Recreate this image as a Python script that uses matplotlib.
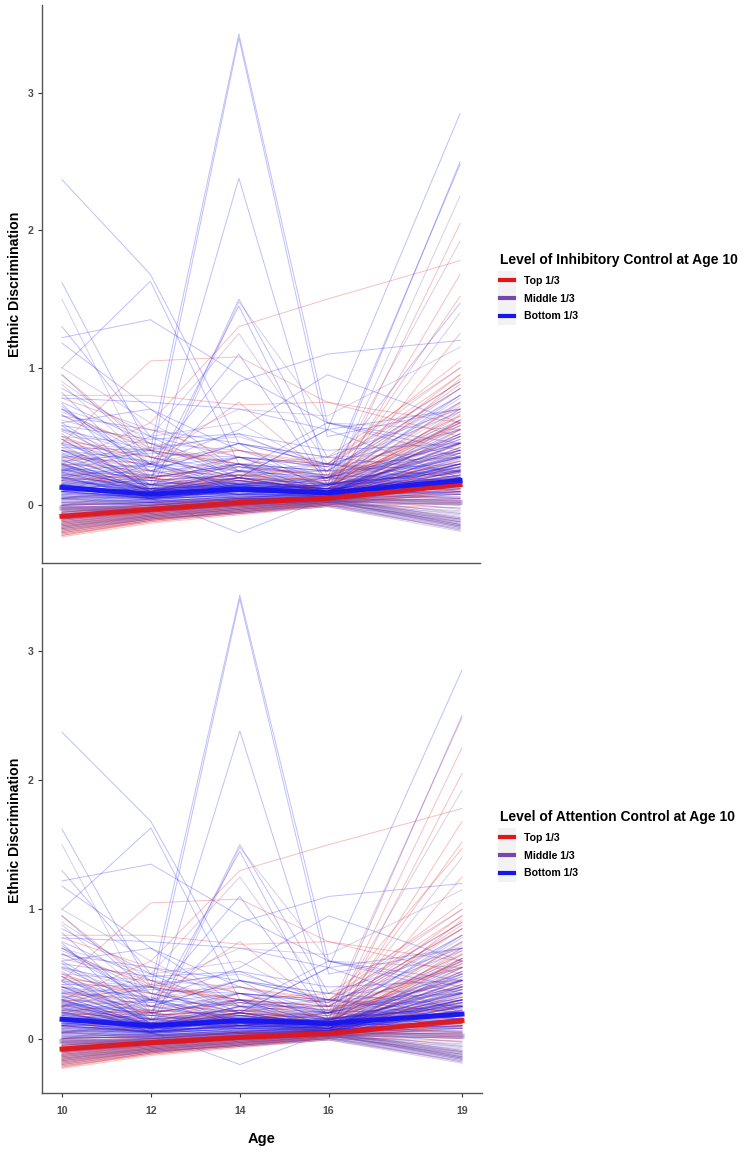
import matplotlib
matplotlib.use("Agg")
import matplotlib.pyplot as plt
from matplotlib.lines import Line2D
from matplotlib.patches import Rectangle
from matplotlib.transforms import IdentityTransform

plt.rcParams["font.family"] = ["Liberation Sans", "DejaVu Sans"]

ages = [10, 12, 14, 16, 19]
group_labels = ["Top 1/3", "Middle 1/3", "Bottom 1/3"]
group_colors = {"T": "#E0161B", "M": "#7448B0", "B": "#1515F0"}

# ethnic discrimination per participant at ages 10, 12, 14, 16, 19
high_scores = [
    [0.25, 0.40, 3.43, 0.60, 0.35], [0.10, 0.30, 3.40, 0.50, 0.70],
    [0.05, 0.15, 2.38, 0.20, 0.45], [0.30, 0.10, 1.50, 0.35, 0.25],
    [0.15, 0.05, 1.48, 0.60, 0.55], [0.40, 0.20, 1.45, 0.15, 0.80],
    [2.37, 1.68, 0.45, 0.10, 0.30], [1.00, 1.63, 0.30, 0.05, 0.20],
    [1.62, 0.40, 0.10, 0.20, 0.15], [1.22, 1.35, 0.95, 0.60, 0.40],
    [1.30, 0.50, 0.20, 0.10, 0.50], [1.50, 0.20, 0.05, 0.05, 0.30],
    [0.45, 1.05, 1.08, 0.75, 0.50], [0.80, 0.80, 0.73, 0.75, 0.60],
    [0.30, 0.60, 1.30, 1.50, 1.78], [0.10, 0.20, 0.90, 1.10, 1.20],
    [0.20, 0.30, 0.55, 0.95, 0.60], [0.05, 0.10, 0.20, 0.55, 2.85],
    [0.10, 0.05, 0.15, 0.20, 2.48], [0.00, 0.10, 0.10, 0.15, 2.50],
    [0.05, 0.00, 0.05, 0.10, 2.25], [-0.05, 0.00, 0.05, 0.05, 2.05],
    [0.00, 0.05, 0.10, 0.15, 1.92], [-0.10, -0.05, 0.00, 0.05, 1.68],
    [-0.05, 0.00, 0.05, 0.10, 1.52], [0.20, 0.15, 0.30, 0.25, 1.47],
    [0.10, 0.05, 0.20, 0.10, 1.40], [-0.10, -0.05, 0.00, 0.05, 1.25],
    [0.70, 0.30, 1.10, 0.15, 0.20], [0.25, 0.50, 1.25, 0.30, 0.20],
    [0.78, 0.75, 0.70, 0.55, 0.20], [1.18, 0.70, 0.40, 0.20, 0.10],
    [1.00, 0.60, 0.25, 0.10, 0.05], [0.95, 0.40, 0.30, 0.15, 0.60],
    [0.65, 0.42, 0.50, 0.30, 1.00], [0.55, 0.40, 0.52, 0.25, 0.85],
    [0.60, 0.70, 0.25, 0.60, 0.45], [0.35, 0.40, 0.70, 0.65, 1.15],
    [0.50, 0.30, 0.75, 0.20, 0.95], [0.40, 0.25, 0.45, 0.35, 0.70],
    [0.30, 0.05, -0.20, 0.05, 0.10], [0.75, 0.45, 0.20, 0.55, 0.70],
    [0.45, 0.35, 0.20, 0.30, 1.05], [0.25, 0.20, 0.35, 0.30, 0.90],
    [0.70, 0.35, 0.25, 0.25, 0.80], [0.50, 0.45, 0.30, 0.20, 0.60],
]
mid_scores = [
    [0.45, 0.30, 0.25, 0.20, 0.50], [0.40, 0.15, 0.20, 0.15, 0.35],
    [0.38, 0.25, 0.30, 0.10, 0.55], [0.35, 0.20, 0.15, 0.10, 0.65],
    [0.33, 0.10, 0.25, 0.20, 0.40], [0.30, 0.28, 0.20, 0.18, 0.45],
    [0.28, 0.15, 0.10, 0.12, 0.75], [0.26, 0.20, 0.28, 0.15, 0.30],
    [0.25, 0.10, 0.12, 0.08, 0.55], [0.24, 0.18, 0.22, 0.20, 0.25],
    [0.22, 0.12, 0.20, 0.10, 0.62], [0.22, 0.25, 0.15, 0.18, 0.38],
    [0.20, 0.08, 0.15, 0.12, 0.48], [0.20, 0.15, 0.18, 0.10, 0.33],
    [0.18, 0.10, 0.25, 0.15, 0.70], [0.18, 0.12, 0.10, 0.08, 0.22],
    [0.16, 0.20, 0.12, 0.14, 0.58], [0.15, 0.08, 0.20, 0.10, 0.42],
    [0.15, 0.12, 0.15, 0.12, 0.28], [0.14, 0.05, 0.10, 0.08, 0.52],
    [0.12, 0.10, 0.18, 0.12, 0.35], [0.12, 0.08, 0.08, 0.06, 0.60],
    [0.10, 0.05, 0.12, 0.10, 0.44], [0.10, 0.12, 0.10, 0.08, 0.25],
    [0.60, 0.20, 0.30, 0.25, 0.30], [0.55, 0.30, 0.15, 0.20, 0.40],
    [0.52, 0.10, 0.20, 0.15, 0.25], [0.48, 0.35, 0.40, 0.30, 0.20],
    [0.42, 0.40, 0.28, 0.22, 0.18], [0.36, 0.30, 0.45, 0.35, 0.38],
    [0.32, 0.38, 0.35, 0.28, 0.68], [0.28, 0.42, 0.30, 0.25, 0.85],
    [0.65, 0.55, 0.45, 0.30, 0.55], [0.58, 0.48, 0.52, 0.40, 0.45],
    [0.85, 0.50, 0.35, 0.30, 0.35], [0.88, 0.30, 0.10, 0.15, 0.25],
    [0.72, 0.25, 0.15, 0.10, 0.12], [0.68, 0.40, 0.30, 0.35, 1.00],
    [0.95, 0.35, 0.20, 0.10, 0.30], [0.90, 0.45, 0.40, 0.25, 0.15],
    [0.82, 0.20, 0.30, 0.20, 0.45], [0.78, 0.55, 0.35, 0.15, 0.60],
    [0.74, 0.10, 0.25, 0.30, 0.25], [0.70, 0.50, 0.60, 0.25, 0.35],
    [0.66, 0.30, 0.10, 0.20, 0.75], [0.62, 0.45, 0.25, 0.10, 0.20],
    [0.58, 0.15, 0.35, 0.28, 0.90], [0.56, 0.35, 0.20, 0.12, 0.40],
    [0.54, 0.25, 0.45, 0.30, 0.15], [0.50, 0.20, 0.10, 0.18, 0.65],
    [0.48, 0.12, 0.30, 0.10, 0.35], [0.46, 0.40, 0.15, 0.22, 0.80],
    [0.44, 0.28, 0.35, 0.15, 0.28], [0.42, 0.18, 0.22, 0.25, 0.55],
    [0.40, 0.32, 0.12, 0.08, 0.45], [0.38, 0.10, 0.28, 0.20, 0.72],
    [0.37, 0.22, 0.18, 0.12, 0.20], [0.35, 0.30, 0.40, 0.28, 0.95],
    [0.34, 0.15, 0.08, 0.14, 0.38], [0.32, 0.20, 0.30, 0.22, 0.58],
    [0.31, 0.08, 0.15, 0.05, 0.25], [0.30, 0.25, 0.22, 0.18, 0.85],
    [0.29, 0.18, 0.12, 0.15, 0.48], [0.28, 0.05, 0.20, 0.10, 0.32],
    [0.27, 0.22, 0.35, 0.20, 0.62], [0.26, 0.12, 0.08, 0.12, 0.18],
    [0.25, 0.30, 0.18, 0.08, 0.52], [0.24, 0.08, 0.25, 0.16, 0.78],
    [0.23, 0.15, 0.12, 0.10, 0.36], [0.22, 0.20, 0.28, 0.22, 0.46],
    [0.21, 0.05, 0.10, 0.06, 0.28], [0.20, 0.18, 0.22, 0.14, 0.66],
    [0.19, 0.12, 0.08, 0.10, 0.40], [0.18, 0.22, 0.18, 0.20, 0.88],
    [0.17, 0.06, 0.14, 0.08, 0.30], [0.16, 0.14, 0.24, 0.12, 0.50],
    [0.15, 0.18, 0.10, 0.16, 0.24], [0.14, 0.10, 0.20, 0.10, 0.68],
    [0.13, 0.04, 0.12, 0.06, 0.38], [0.12, 0.16, 0.16, 0.14, 0.56],
    [0.11, 0.08, 0.08, 0.08, 0.30], [0.10, 0.12, 0.22, 0.12, 0.74],
    [0.09, 0.06, 0.10, 0.10, 0.42], [0.08, 0.10, 0.14, 0.08, 0.62],
    [0.07, 0.04, 0.08, 0.06, 0.34], [0.06, 0.08, 0.18, 0.10, 0.92],
    [0.05, 0.06, 0.06, 0.08, 0.46], [0.04, 0.10, 0.12, 0.06, 0.58],
]
low_rising_scores = [
    [-0.22, -0.12, -0.06, 0.00, 0.10], [-0.21, -0.11, -0.05, 0.01, 0.20],
    [-0.20, -0.10, -0.04, 0.02, 0.05], [-0.19, -0.10, -0.05, 0.00, 0.30],
    [-0.18, -0.09, -0.03, 0.02, 0.15], [-0.17, -0.08, -0.02, 0.03, 0.25],
    [-0.16, -0.08, -0.03, 0.01, -0.02], [-0.15, -0.07, -0.01, 0.03, 0.40],
    [-0.14, -0.06, 0.00, 0.04, 0.12], [-0.13, -0.06, -0.01, 0.02, 0.08],
    [-0.12, -0.05, 0.00, 0.04, 0.35], [-0.11, -0.04, 0.01, 0.05, 0.18],
    [-0.10, -0.04, 0.02, 0.05, 0.50], [-0.09, -0.03, 0.01, 0.04, 0.22],
    [-0.08, -0.02, 0.03, 0.06, 0.06], [-0.06, -0.01, 0.03, 0.05, 0.28],
    [-0.04, 0.00, 0.04, 0.06, 0.14], [-0.02, 0.01, 0.05, 0.07, 0.45],
    [0.00, 0.02, 0.05, 0.06, 0.03], [0.02, 0.03, 0.06, 0.08, 0.32],
    [-0.23, -0.13, -0.07, -0.01, 0.02], [-0.22, -0.11, -0.05, 0.01, 0.24],
    [-0.21, -0.12, -0.06, 0.00, 0.12], [-0.20, -0.11, -0.04, 0.01, 0.38],
    [-0.19, -0.09, -0.04, 0.02, 0.08], [-0.18, -0.10, -0.05, 0.00, 0.18],
    [-0.17, -0.09, -0.03, 0.02, 0.55], [-0.16, -0.07, -0.02, 0.03, 0.10],
    [-0.15, -0.08, -0.03, 0.02, 0.26], [-0.14, -0.07, -0.02, 0.03, 0.00],
    [-0.13, -0.05, 0.00, 0.04, 0.16], [-0.12, -0.06, -0.01, 0.03, 0.62],
    [-0.11, -0.05, 0.00, 0.04, 0.09], [-0.10, -0.03, 0.01, 0.05, 0.30],
    [-0.09, -0.04, 0.00, 0.04, 0.04], [-0.08, -0.03, 0.02, 0.05, 0.42],
    [-0.07, -0.02, 0.02, 0.06, 0.20], [-0.05, -0.01, 0.03, 0.06, 0.11],
    [-0.03, 0.00, 0.04, 0.06, 0.70], [0.00, 0.02, 0.04, 0.07, 0.26],
]
low_falling_scores = [
    [-0.18, -0.10, -0.05, 0.00, -0.18], [-0.17, -0.09, -0.06, -0.01, -0.17],
    [-0.16, -0.09, -0.04, 0.01, -0.16], [-0.15, -0.08, -0.03, 0.02, -0.15],
    [-0.14, -0.08, -0.04, 0.00, -0.16], [-0.13, -0.07, -0.02, 0.02, -0.14],
    [-0.12, -0.06, -0.02, 0.03, -0.13], [-0.11, -0.06, -0.01, 0.02, -0.12],
    [-0.10, -0.05, -0.01, 0.03, -0.15], [-0.09, -0.04, 0.00, 0.03, -0.10],
    [-0.08, -0.04, 0.00, 0.04, -0.14], [-0.07, -0.03, 0.01, 0.03, -0.08],
    [-0.06, -0.02, 0.01, 0.04, -0.12], [-0.05, -0.02, 0.02, 0.04, -0.05],
    [-0.04, -0.01, 0.02, 0.05, -0.11], [-0.03, 0.00, 0.03, 0.04, -0.02],
    [-0.02, 0.00, 0.02, 0.05, -0.09], [0.00, 0.01, 0.03, 0.05, 0.02],
    [0.02, 0.02, 0.04, 0.06, -0.06], [0.04, 0.03, 0.05, 0.06, 0.05],
    [0.06, 0.04, 0.06, 0.07, -0.03], [0.08, 0.05, 0.07, 0.08, 0.08],
    [-0.20, -0.11, -0.06, -0.01, -0.19], [-0.19, -0.10, -0.05, 0.00, -0.12],
    [-0.17, -0.10, -0.05, 0.01, -0.18], [-0.16, -0.08, -0.03, 0.01, -0.10],
    [-0.15, -0.09, -0.04, 0.00, -0.17], [-0.14, -0.07, -0.03, 0.02, -0.06],
    [-0.13, -0.08, -0.03, 0.01, -0.15], [-0.12, -0.07, -0.02, 0.02, -0.11],
    [-0.11, -0.05, -0.01, 0.03, -0.16], [-0.10, -0.06, -0.02, 0.02, -0.04],
    [-0.09, -0.05, 0.00, 0.03, -0.13], [-0.08, -0.03, 0.01, 0.04, -0.09],
    [-0.07, -0.04, 0.00, 0.03, -0.15], [-0.06, -0.03, 0.01, 0.04, 0.00],
    [-0.05, -0.01, 0.02, 0.05, -0.12], [-0.03, -0.01, 0.02, 0.04, -0.07],
    [-0.01, 0.00, 0.03, 0.05, -0.14], [0.01, 0.01, 0.04, 0.05, 0.04],
    [0.03, 0.02, 0.04, 0.06, -0.10], [0.05, 0.03, 0.05, 0.06, 0.01],
]
low_flat_scores = [
    [0.00, 0.02, 0.05, 0.05, 0.12], [0.02, 0.00, 0.04, 0.04, 0.20],
    [0.04, 0.03, 0.06, 0.06, 0.15], [0.05, 0.02, 0.07, 0.05, 0.25],
    [0.07, 0.04, 0.08, 0.07, 0.10], [0.08, 0.05, 0.09, 0.06, 0.30],
    [0.10, 0.06, 0.10, 0.08, 0.18], [0.11, 0.05, 0.09, 0.07, 0.05],
    [0.12, 0.07, 0.11, 0.09, 0.22], [0.14, 0.08, 0.12, 0.09, 0.14],
    [0.15, 0.07, 0.13, 0.10, 0.35], [0.17, 0.09, 0.14, 0.10, 0.08],
    [0.19, 0.10, 0.15, 0.11, 0.26], [0.21, 0.08, 0.13, 0.10, 0.16],
    [0.23, 0.11, 0.16, 0.12, 0.40], [0.26, 0.12, 0.14, 0.11, 0.12],
    [0.29, 0.10, 0.17, 0.12, 0.20], [-0.02, 0.00, 0.03, 0.04, -0.10],
    [-0.05, -0.02, 0.02, 0.03, -0.14],
    [0.01, 0.01, 0.04, 0.04, 0.16], [0.03, 0.02, 0.05, 0.05, 0.08],
    [0.06, 0.03, 0.06, 0.06, 0.22], [0.09, 0.04, 0.08, 0.07, 0.13],
    [0.10, 0.05, 0.07, 0.06, 0.28], [0.12, 0.06, 0.10, 0.08, 0.10],
    [0.13, 0.05, 0.11, 0.08, 0.19], [0.15, 0.08, 0.12, 0.09, 0.24],
    [0.16, 0.06, 0.10, 0.08, 0.06], [0.18, 0.09, 0.13, 0.10, 0.32],
    [0.20, 0.07, 0.14, 0.10, 0.15], [0.22, 0.10, 0.15, 0.11, 0.21],
    [0.24, 0.09, 0.13, 0.10, 0.45], [0.27, 0.11, 0.16, 0.12, 0.14],
    [0.30, 0.12, 0.18, 0.13, 0.27], [0.33, 0.10, 0.15, 0.12, 0.09],
    [0.36, 0.13, 0.17, 0.14, 0.36], [0.40, 0.14, 0.20, 0.15, 0.18],
    [0.44, 0.12, 0.16, 0.14, 0.52], [0.48, 0.15, 0.22, 0.16, 0.23],
]

# tertile of each participant per block (T = top, M = middle, B = bottom)
inhibitory_high = "BBBBMBBBBBBMTTTBBBBBMTMTTBMTBMBBMTMBBMTBBBTTBM"
attention_high = "BBBBMBBBBBBMTTTBBBTBTTMTTTMTBMBBMTMBBMTBBBTTBM"
inhibitory_mid = "BBMTBMTBMBTMBTMBTMBTBMTB" "BMBTBMBMBBBMBT" + "BMBT" * 12 + "BM"
attention_mid = "BBMTBMTBMBTMBTMBTMBTBMTB" "BMBTBMBTBBBMBT" + "BMBT" * 12 + "BM"
rising_groups = "T" * 40
falling_groups = "M" * 42
flat_groups = "B" * 17 + "MM" + "B" * 20

trajectories = high_scores + mid_scores + low_rising_scores + low_falling_scores + low_flat_scores
inhibitory_group = inhibitory_high + inhibitory_mid + rising_groups + falling_groups + flat_groups
attention_group = attention_high + attention_mid + rising_groups + falling_groups + flat_groups
assert len(trajectories) == len(inhibitory_group) == len(attention_group)

# group mean trajectories
inhibitory_means = {
    "T": [-0.08, -0.03, 0.02, 0.05, 0.15],
    "M": [-0.02, -0.03, 0.01, 0.04, 0.02],
    "B": [0.13, 0.08, 0.12, 0.09, 0.18],
}
attention_means = {
    "T": [-0.08, -0.03, 0.01, 0.04, 0.14],
    "M": [-0.02, -0.03, 0.01, 0.04, 0.02],
    "B": [0.15, 0.10, 0.14, 0.12, 0.19],
}

W, H = 747, 1159
fig = plt.figure(figsize=(W / 100, H / 100), dpi=100)
ax_top = fig.add_axes([42 / W, 1 - 563 / H, 438 / W, 558 / H])
ax_bot = fig.add_axes([42 / W, 1 - 1093 / H, 440 / W, 525 / H])

label_grey = "#4D4D4D"
legends = []


def draw_panel(ax, groups, means, title, legend_y, show_x):
    for values, g in zip(trajectories, groups):
        ax.plot(ages, values, color=group_colors[g], lw=0.7, alpha=0.27)
    for g in ["M", "T", "B"]:
        ax.plot(ages, means[g], color=group_colors[g], lw=3.6,
                alpha=0.45 if g == "M" else 0.95)

    ax.set_xlim(9.55, 19.45)
    ax.set_ylim(-0.42, 3.64)
    ax.set_yticks([0, 1, 2, 3])
    ax.set_xticks(ages)
    for side in ["top", "right"]:
        ax.spines[side].set_visible(False)
    for side in ["left", "bottom"]:
        ax.spines[side].set_color("#555555")
        ax.spines[side].set_linewidth(1.0)
    ax.tick_params(axis="y", length=3, width=0.8, color="#333333",
                   labelsize=7.6, labelcolor=label_grey, pad=3)
    for lab in ax.get_yticklabels():
        lab.set_fontweight("bold")
    if show_x:
        ax.tick_params(axis="x", length=3, width=0.8, color="#333333",
                       labelsize=7.6, labelcolor=label_grey, pad=6)
        for lab in ax.get_xticklabels():
            lab.set_fontweight("bold")
        ax.set_xlabel("Age", fontsize=10.5, fontweight="bold", labelpad=12)
    else:
        ax.tick_params(axis="x", length=0, labelbottom=False)
    ax.set_ylabel("Ethnic Discrimination", fontsize=10.2, fontweight="bold",
                  labelpad=4)

    handles = [Line2D([], [], color=group_colors[g], lw=3) for g in "TMB"]
    leg = fig.legend(handles, group_labels, loc="upper left",
                     bbox_to_anchor=(495 / W, 1 - legend_y / H),
                     frameon=False, title=title, alignment="left",
                     handlelength=1.3, handletextpad=0.9, labelspacing=0.75,
                     borderpad=0, prop={"size": 7.6, "weight": "bold"},
                     title_fontproperties={"size": 10, "weight": "bold"})
    leg._legend_box.sep = 6
    legends.append(leg)


draw_panel(ax_top, inhibitory_group, inhibitory_means,
           "Level of Inhibitory Control at Age 10", 248, False)
draw_panel(ax_bot, attention_group, attention_means,
           "Level of Attention Control at Age 10", 805, True)

# light grey key boxes behind the legend swatches
fig.canvas.draw()
renderer = fig.canvas.get_renderer()
for leg in legends:
    for h in leg.legend_handles:
        bb = h.get_window_extent(renderer)
        cx, cy = (bb.x0 + bb.x1) / 2, (bb.y0 + bb.y1) / 2
        fig.add_artist(Rectangle((cx - 9, cy - 8.8), 18, 17.6,
                                 transform=IdentityTransform(),
                                 facecolor="#F2F2F2", edgecolor="none",
                                 zorder=1))

fig.savefig("out.png", dpi=100)
